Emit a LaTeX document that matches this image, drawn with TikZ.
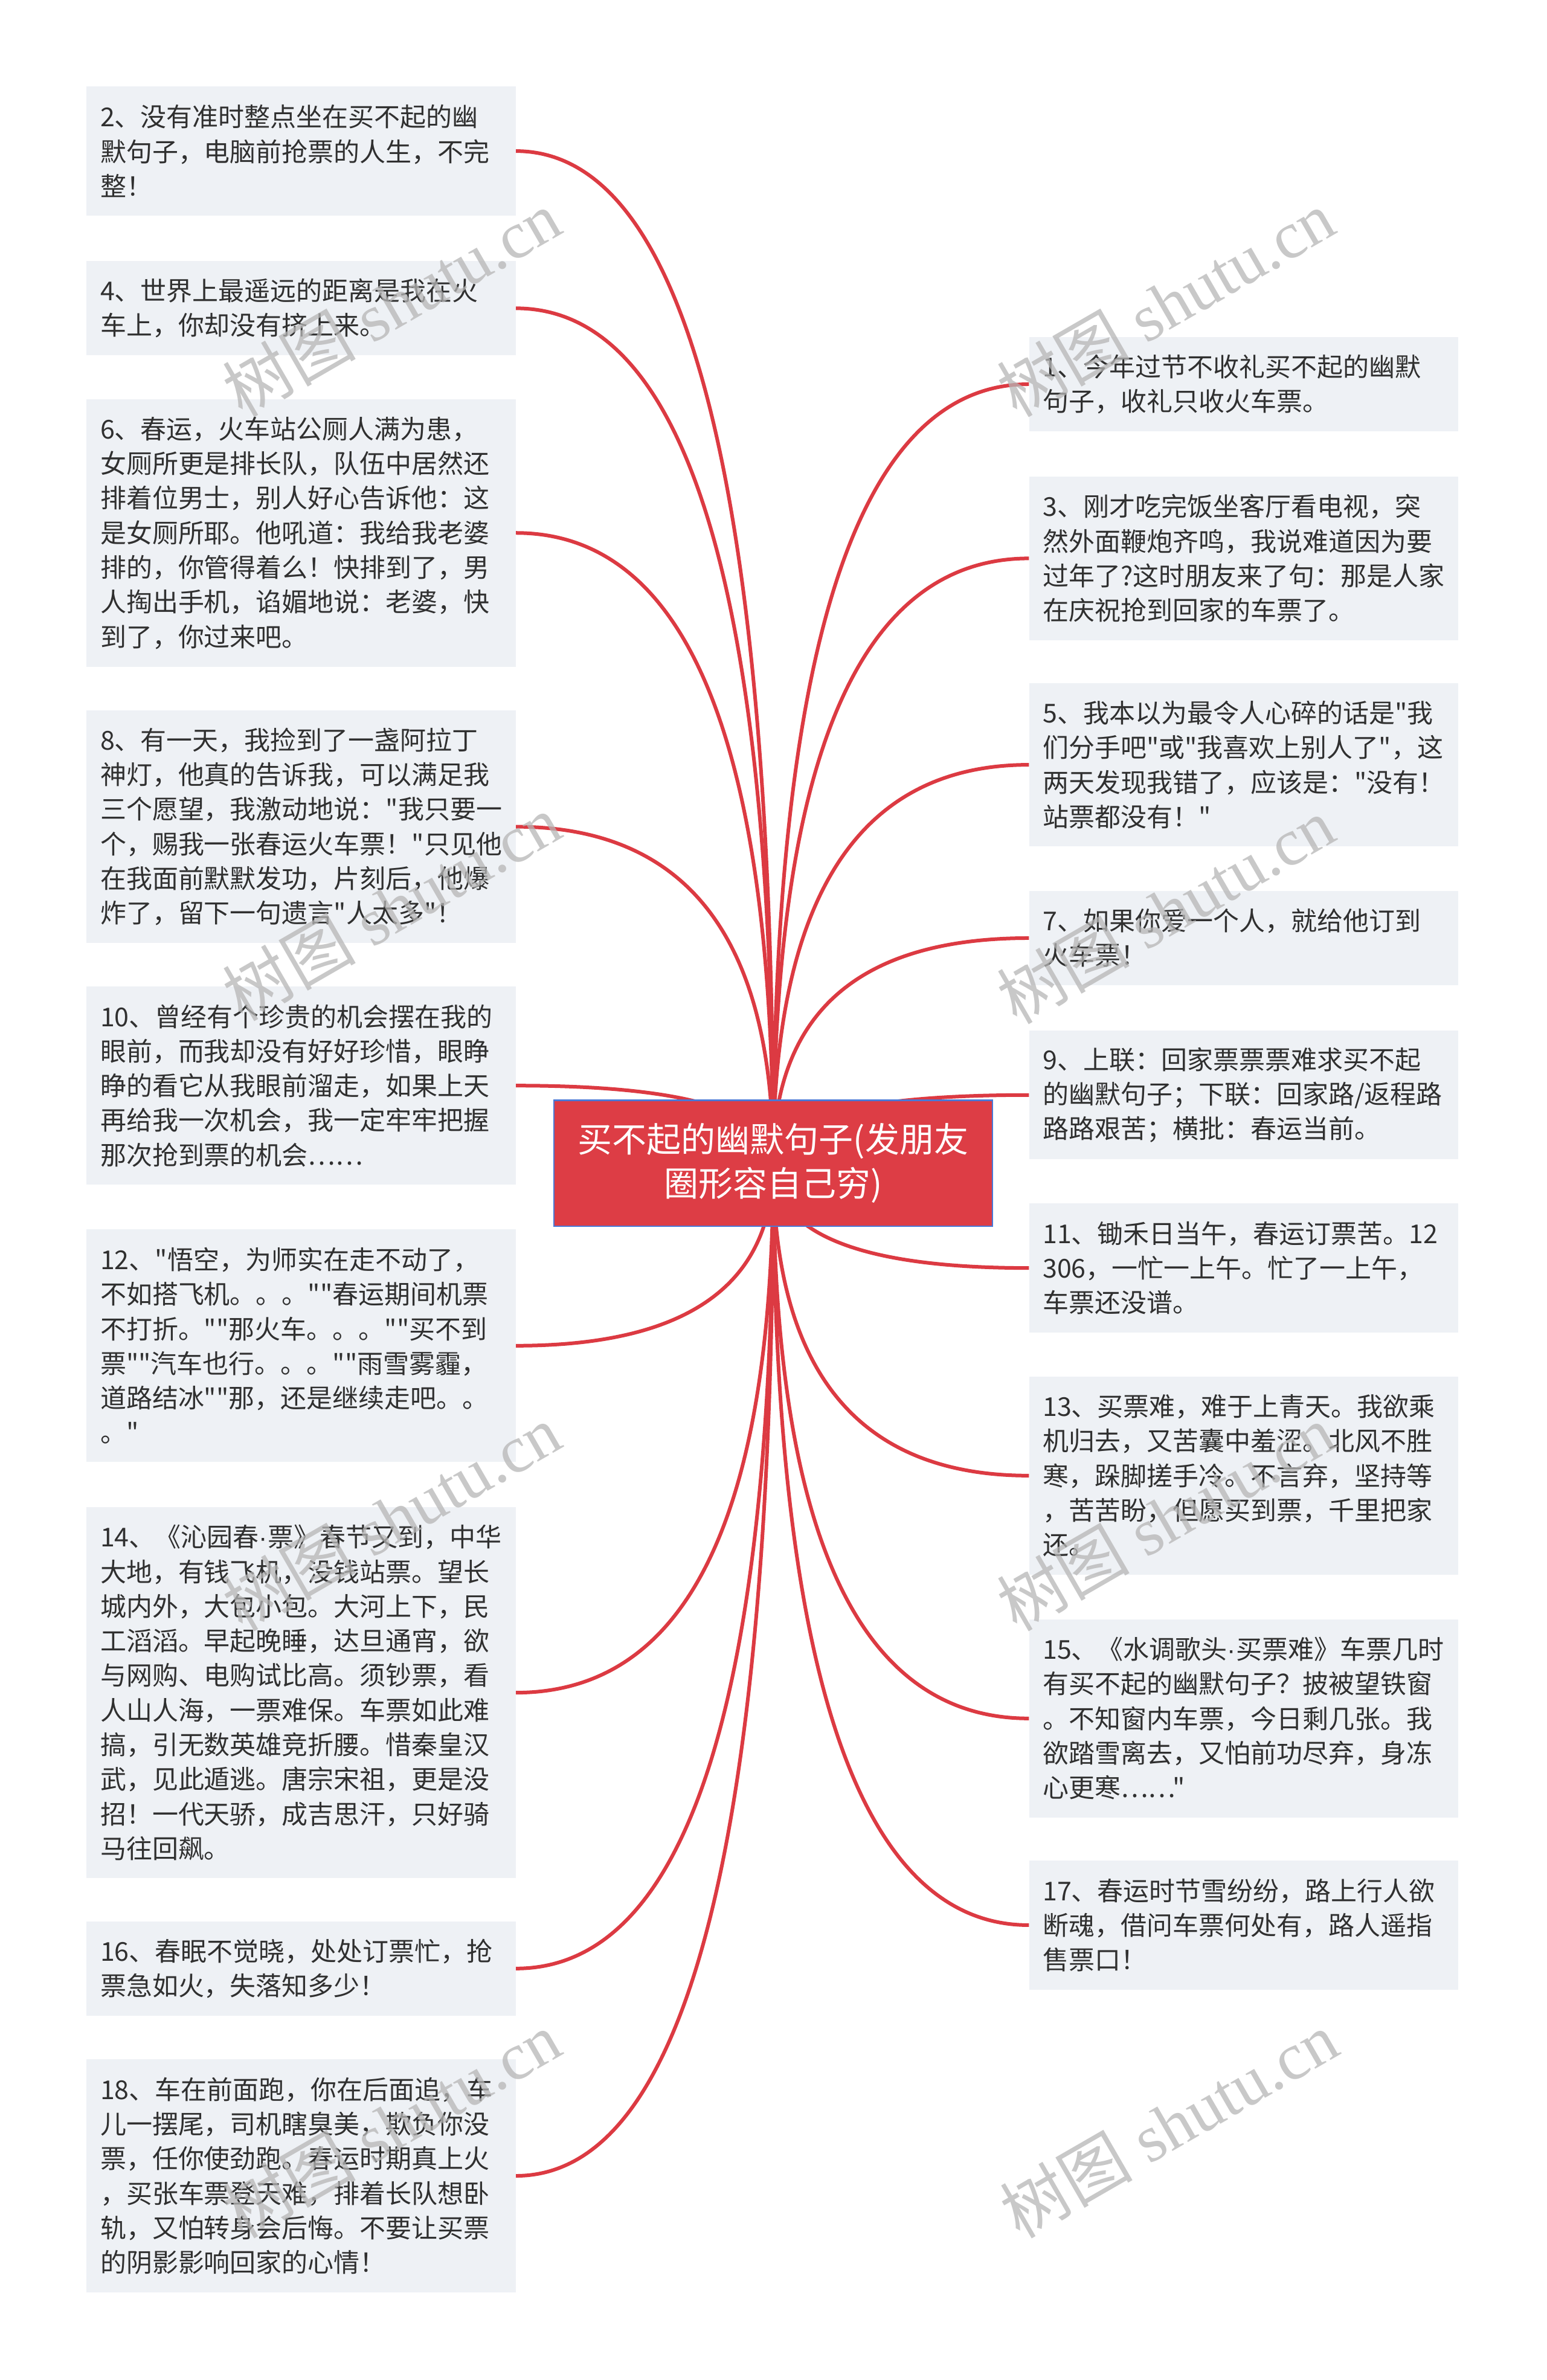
\documentclass[tikz,border=0pt]{standalone}
\usepackage{fontspec}
\setmainfont{Noto Sans CJK SC}[Ligatures=TeXOff]
\newfontfamily\wmcjk{Noto Sans CJK SC}
\newfontfamily\wmlat{Liberation Serif}
\newfontfamily\latsans{Liberation Sans}
\newcommand\mdot{{\latsans ·}}
\usetikzlibrary{calc}
\definecolor{boxfill}{RGB}{238,241,245}
\definecolor{txt}{RGB}{48,48,48}
\definecolor{redline}{RGB}{220,58,66}
\definecolor{rootfill}{RGB}{221,61,69}
\definecolor{rootborder}{RGB}{74,120,214}
\definecolor{wmgray}{RGB}{182,182,182}
\pgfdeclarelayer{bg}
\pgfdeclarelayer{lines}
\pgfsetlayers{bg,lines,main}
\begin{document}
\begin{tikzpicture}[x=2.5123pt,y=-2.5123pt,
  leaf/.style={fill=boxfill, text=txt, inner xsep=22.6pt, inner ysep=0pt,
    text width=665pt, align=left, anchor=north west,
    font=\fontsize{43pt}{57.3pt}\selectfont},
  hA/.style={minimum height=156.1pt},
  hB/.style={minimum height=213.4pt},
  hC/.style={minimum height=270.7pt},
  hD/.style={minimum height=328pt},
  hE/.style={minimum height=385.3pt},
  hF/.style={minimum height=442.6pt},
  hG/.style={minimum height=614.5pt},
  rootbox/.style={fill=rootfill, draw=rootborder, line width=2.5pt, text=white,
    minimum width=726pt, minimum height=208.5pt, align=center,
    font=\fontsize{57pt}{73pt}\selectfont},
  conn/.style={draw=redline, line width=6pt},
  wm/.style={rotate=30, text=wmgray, text opacity=0.75, inner sep=0pt}
]
\useasboundingbox (0,0) rectangle (1019,1568.3);
\begin{pgfonlayer}{bg}
\fill[white] (0,0) rectangle (1019,1568.3);
\end{pgfonlayer}

% root
\node[rootbox] (root) at (509.5,766.5) {买不起的幽默句子(发朋友\\圈形容自己穷)};

% left column
\node[leaf,hB] (n2) at (57,57) {2、没有准时整点坐在买不起的幽\\默句子，电脑前抢票的人生，不完\\整！};
\node[leaf,hA] (n4) at (57,172) {4、世界上最遥远的距离是我在火\\车上，你却没有挤上来。};
\node[leaf,hF] (n6) at (57,263) {6、春运，火车站公厕人满为患，\\女厕所更是排长队，队伍中居然还\\排着位男士，别人好心告诉他：这\\是女厕所耶。他吼道：我给我老婆\\排的，你管得着么！快排到了，男\\人掏出手机，谄媚地说：老婆，快\\到了，你过来吧。};
\node[leaf,hE] (n8) at (57,468) {8、有一天，我捡到了一盏阿拉丁\\神灯，他真的告诉我，可以满足我\\三个愿望，我激动地说："我只要一\\个，赐我一张春运火车票！"只见他\\在我面前默默发功，片刻后，他爆\\炸了，留下一句遗言"人太多"！};
\node[leaf,hD] (n10) at (57,650) {10、曾经有个珍贵的机会摆在我的\\眼前，而我却没有好好珍惜，眼睁\\睁的看它从我眼前溜走，如果上天\\再给我一次机会，我一定牢牢把握\\那次抢到票的机会……};
\node[leaf,hE] (n12) at (57,810) {12、"悟空，为师实在走不动了，\\不如搭飞机。。。""春运期间机票\\不打折。""那火车。。。""买不到\\票""汽车也行。。。""雨雪雾霾，\\道路结冰""那，还是继续走吧。。\\。"};
\node[leaf,hG] (n14) at (57,993) {14、《沁园春\mdot 票》春节又到，中华\\大地，有钱飞机，没钱站票。望长\\城内外，大包小包。大河上下，民\\工滔滔。早起晚睡，达旦通宵，欲\\与网购、电购试比高。须钞票，看\\人山人海，一票难保。车票如此难\\搞，引无数英雄竞折腰。惜秦皇汉\\武，见此遁逃。唐宗宋祖，更是没\\招！一代天骄，成吉思汗，只好骑\\马往回飙。};
\node[leaf,hA] (n16) at (57,1266) {16、春眠不觉晓，处处订票忙，抢\\票急如火，失落知多少！};
\node[leaf,hE] (n18) at (57,1357) {18、车在前面跑，你在后面追，车\\儿一摆尾，司机瞎臭美，欺负你没\\票，任你使劲跑。春运时期真上火\\，买张车票登天难，排着长队想卧\\轨，又怕转身会后悔。不要让买票\\的阴影影响回家的心情！};

% right column
\node[leaf,hA] (n1) at (678,222) {1、今年过节不收礼买不起的幽默\\句子，收礼只收火车票。};
\node[leaf,hC] (n3) at (678,314) {3、刚才吃完饭坐客厅看电视，突\\然外面鞭炮齐鸣，我说难道因为要\\过年了?这时朋友来了句：那是人家\\在庆祝抢到回家的车票了。};
\node[leaf,hC] (n5) at (678,450) {5、我本以为最令人心碎的话是"我\\们分手吧"或"我喜欢上别人了"，这\\两天发现我错了，应该是："没有！\\站票都没有！"};
\node[leaf,hA] (n7) at (678,587) {7、如果你爱一个人，就给他订到\\火车票！};
\node[leaf,hB] (n9) at (678,679) {9、上联：回家票票票难求买不起\\的幽默句子；下联：回家路/返程路\\路路艰苦；横批：春运当前。};
\node[leaf,hB] (n11) at (678,793) {11、锄禾日当午，春运订票苦。12\\306，一忙一上午。忙了一上午，\\车票还没谱。};
\node[leaf,hD] (n13) at (678,907) {13、买票难，难于上青天。我欲乘\\机归去，又苦囊中羞涩。北风不胜\\寒，跺脚搓手冷。不言弃，坚持等\\，苦苦盼，但愿买到票，千里把家\\还。};
\node[leaf,hD] (n15) at (678,1067) {15、《水调歌头\mdot 买票难》车票几时\\有买不起的幽默句子？披被望铁窗\\。不知窗内车票，今日剩几张。我\\欲踏雪离去，又怕前功尽弃，身冻\\心更寒……"};
\node[leaf,hB] (n17) at (678,1226) {17、春运时节雪纷纷，路上行人欲\\断魂，借问车票何处有，路人遥指\\售票口！};

% connectors
\begin{pgfonlayer}{lines}
\foreach \n/\a in {n2/east,n4/east,n6/east,n8/east,n10/east,n12/east,n14/east,n16/east,n18/east,
                   n1/west,n3/west,n5/west,n7/west,n9/west,n11/west,n13/west,n15/west,n17/west}{
  \coordinate (q-\n) at (\n.\a -| root.center);
  \draw[conn] (root.center) .. controls ($(root.center)!0.6667!(q-\n)$) and ($(\n.\a)!0.6667!(q-\n)$) .. (\n.\a);
}
\end{pgfonlayer}

% watermarks
\foreach \i/\x/\y in {1/258/200,2/768/200,3/258/598,4/768/600,5/258/1000,6/768/1000,7/258/1400,8/770/1400}{
  \node[wm] (wm\i) at (\x,\y) {\fontsize{110pt}{110pt}\selectfont{\wmcjk 树图}\hspace{0.25em}{\wmlat shutu.cn}};
}
\end{tikzpicture}
\end{document}
